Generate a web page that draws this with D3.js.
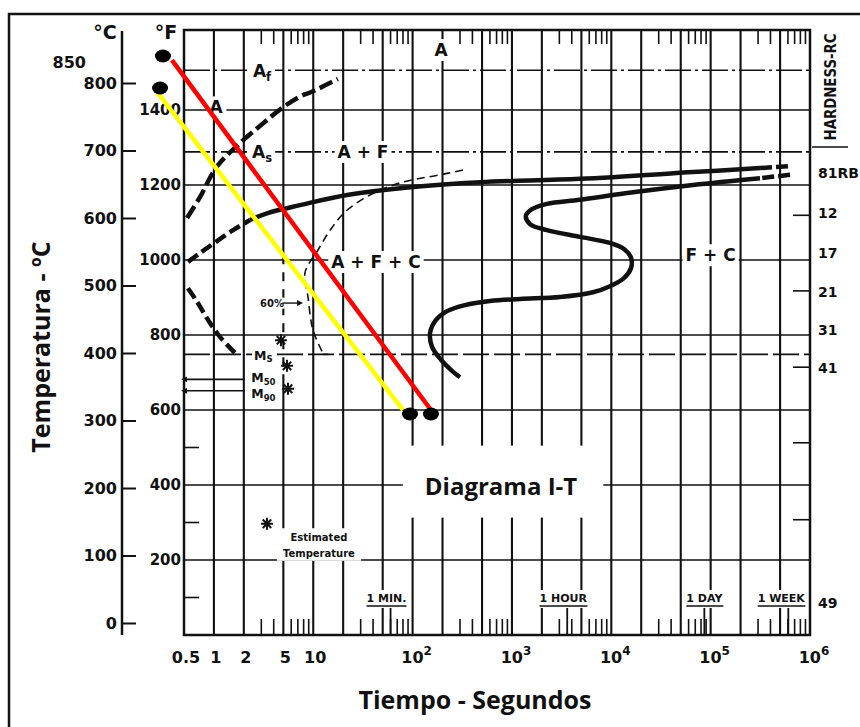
<!DOCTYPE html>
<html>
<head>
<meta charset="utf-8">
<title>Diagrama I-T</title>
<script src="https://cdn.jsdelivr.net/npm/d3@7/dist/d3.min.js"></script>
<style>
  html, body { margin: 0; padding: 0; background: #fff; }
  svg { display: block; }
  .scan { font-family: "DejaVu Sans", sans-serif; font-weight: bold; fill: #111; }
  .title { font-family: "Open Sans", sans-serif; font-weight: 700; fill: #111; }
</style>
</head>
<body>
<div id="chart"></div>
<script>
// --- Axis values ---
const celsiusTicks = [0, 100, 200, 300, 400, 500, 600, 700, 800];
const fahrenheitTicks = [200, 400, 600, 800, 1000, 1200, 1400];
const fahrenheitMinor = [100, 300, 500];
const timeTicks = [0.5, 1, 2, 5, 10, 100, 1e3, 1e4, 1e5, 1e6];
const timeTickLabels = ['0.5', '1', '2', '5', '10', '10^2', '10^3', '10^4', '10^5', '10^6'];
const timeGrid = [1, 2, 10, 20, 50, 100, 200, 500, 1e3, 2e3, 5e3, 1e4, 2e4, 5e4, 1e5, 2e5, 5e5];
const brokenGrid = 5;               // this line is dotted in the martensite zone
const minorMultipliers = [3, 4, 6, 7, 8, 9];
const minorDecades = [1, 10, 100, 1e3, 1e4, 1e5];
const timeMarks = [60, 3600, 86400, 604800];
const timeMarkLabels = ['1 MIN.', '1 HOUR', '1 DAY', '1 WEEK'];
const timeMarkShift = [-4, -4, 0, -7];
const hardnessLabels = ['81RB', '12', '17', '21', '31', '41', '49'];
const hardnessTemps = [667, 607, 548, 490, 434, 378, 30];
const hardnessTicks = [604, 492, 379, 267, 153];

// --- Critical temperatures (°C) ---
const tempAf = 819;
const tempAs = 698;
const tempMs = 398;
const tempM50 = 361;
const tempM90 = 344;

// --- Transformation curves: [time s, temp °C] ---
const austeniteLine = [[0.536, 600], [0.724, 631], [1.07, 676], [1.83, 711], [3.05, 739], [4.96, 764], [7.36, 780], [9.7, 787], [17.7, 806]];
const ferriteStartDashed = [[0.548, 535], [0.724, 548], [1.03, 564], [1.56, 582], [2.31, 597]];
const ferriteStart = [[2.31, 597], [3.42, 607], [7.36, 619], [21.9, 634], [101, 646], [476, 653], [4840, 658], [66400, 668], [314000, 674]];
const ferriteTail = [[314000, 674], [630000, 677]];
const pearliteTail = [[630000, 664], [314000, 659]];
const pearliteStart = [[314000, 659], [66400, 649], [14400, 637], [4840, 627], [2250, 621], [1590, 613], [1380, 603], [1520, 591],
  [2250, 582], [4840, 572], [9700, 563], [13700, 553], [15800, 541], [15800, 526], [13400, 511], [9700, 499], [6540, 490],
  [3050, 483], [1210, 480], [601, 477], [336, 471], [222, 462], [172, 449], [150, 430], [157, 409], [193, 390], [243, 375], [300, 364]];
const halfLine = [[321, 671], [189, 664], [74.7, 652], [37.2, 634], [20.9, 609], [14.8, 582], [11.2, 553], [8.26, 519], [8.85, 483], [9.94, 434], [12.5, 400]];
const halfLineFoot = [[12.5, 398], [14.2, 398]];
const martensiteLine = [[0.548, 496], [0.676, 476], [0.873, 449], [1.15, 424], [1.71, 397]];

// --- Marks and labels ---
const regionNames = ['A', 'A_f', 'A', 'A_s', 'A + F', 'A + F + C', 'F + C'];
const regionTimes = [193, 3.05, 1.05, 3.05, 31.7, 42.8, 1.0e5];
const regionTemps = [849, 818, 764, 698, 698, 535, 545];
const msNames = ['M_S', 'M_50', 'M_90'];
const msTemps = [397, 364, 340];
const msLabelTime = 3.15;
const starPoints = [[4.73, 419], [5.44, 381], [5.57, 347], [3.42, 147]];

// --- Cooling paths ---
const redPath = [[0.378, 834], [153, 315.6]];
const yellowPath = [[0.267, 786.7], [80, 315.6]];
const pathDots = [[0.307, 840], [0.287, 792.6], [94.2, 309.6], [153, 309.6]];

// ---------------------------------------------------------------
const W = 860, H = 727;
const x = d3.scaleLog().domain([0.5, 1e6]).range([184, 810]);
const yC = d3.scaleLinear().domain([0, 800]).range([623, 83]);
const yF = d3.scaleLinear().domain([0, 1600]).range([yC(-160 / 9), yC((1600 - 32) / 1.8)]);
const plotTop = 30, plotBottom = yF(0), plotLeft = x(0.5), plotRight = x(1e6);
const ink = '#111';

const svg = d3.select('#chart').append('svg').attr('width', W).attr('height', H);
svg.append('rect').attr('width', W).attr('height', H).attr('fill', '#fff');

const defs = svg.append('defs');
defs.append('marker')
  .attr('id', 'arr').attr('viewBox', '0 0 8 8').attr('refX', 1).attr('refY', 4)
  .attr('markerWidth', 6).attr('markerHeight', 6).attr('markerUnits', 'userSpaceOnUse')
  .attr('orient', 'auto-start-reverse')
  .append('path').attr('d', 'M0,0 L8,4 L0,8 z').attr('fill', ink);

// outer frame (cut at right and bottom)
svg.append('path').attr('d', `M9,${H} V14 H${W}`)
  .attr('fill', 'none').attr('stroke', ink).attr('stroke-width', 2.5);

// Celsius axis
const cAxis = svg.append('g').attr('transform', 'translate(122,0)')
  .call(d3.axisLeft(yC).tickValues(celsiusTicks).tickSizeInner(-14).tickSizeOuter(0).tickPadding(5))
  .attr('font-family', null).attr('font-size', null);
cAxis.select('.domain').remove();
cAxis.selectAll('line').attr('stroke', ink).attr('stroke-width', 2);
cAxis.selectAll('text').attr('class', 'scan').attr('font-size', 16).attr('fill', null);
svg.append('line').attr('x1', 122).attr('x2', 122).attr('y1', plotTop + 1).attr('y2', plotBottom)
  .attr('stroke', ink).attr('stroke-width', 2.5);

// Fahrenheit labels
const fAxis = svg.append('g').attr('transform', `translate(${plotLeft},0)`)
  .call(d3.axisLeft(yF).tickValues(fahrenheitTicks).tickSize(0).tickPadding(3).tickFormat(d3.format('d')))
  .attr('font-family', null).attr('font-size', null);
fAxis.select('.domain').remove();
fAxis.selectAll('text').attr('class', 'scan').attr('font-size', 15).attr('fill', null);

// grid
const grid = svg.append('g').attr('stroke', ink);
grid.selectAll('line.h').data(fahrenheitTicks).join('line').attr('class', 'h')
  .attr('x1', plotLeft).attr('x2', plotRight).attr('y1', d => yF(d)).attr('y2', d => yF(d))
  .attr('stroke-width', 1.6);
grid.selectAll('line.v').data(timeGrid).join('line').attr('class', 'v')
  .attr('x1', d => x(d)).attr('x2', d => x(d)).attr('y1', plotTop).attr('y2', plotBottom)
  .attr('stroke-width', 2.1);
// the 5 s line: solid, dotted through the martensite zone, solid again
[[plotTop, yC(545), null], [yC(545), yC(360), '9,8'], [yC(360), plotBottom, null]].forEach(([y1, y2, dash]) => {
  grid.append('line').attr('x1', x(brokenGrid)).attr('x2', x(brokenGrid)).attr('y1', y1).attr('y2', y2)
    .attr('stroke-width', 2.1).attr('stroke-dasharray', dash);
});
grid.selectAll('line.fm').data(fahrenheitMinor).join('line').attr('class', 'fm')
  .attr('x1', plotLeft).attr('x2', plotLeft + 15).attr('y1', d => yF(d)).attr('y2', d => yF(d))
  .attr('stroke-width', 1.6);

const minorTimes = minorDecades.flatMap(dec => minorMultipliers.map(m => m * dec));
grid.selectAll('line.mt').data(minorTimes).join('line').attr('class', 'mt')
  .attr('x1', d => x(d)).attr('x2', d => x(d)).attr('y1', plotTop).attr('y2', plotTop + 14)
  .attr('stroke-width', 1.6);
grid.selectAll('line.mb').data(minorTimes).join('line').attr('class', 'mb')
  .attr('x1', d => x(d)).attr('x2', d => x(d)).attr('y1', plotBottom - 16).attr('y2', plotBottom)
  .attr('stroke-width', 1.6);
grid.selectAll('line.tm').data(timeMarks).join('line').attr('class', 'tm')
  .attr('x1', d => x(d)).attr('x2', d => x(d)).attr('y1', plotBottom - 28).attr('y2', plotBottom)
  .attr('stroke-width', 1.8);
grid.selectAll('line.ht').data(hardnessTicks).join('line').attr('class', 'ht')
  .attr('x1', plotRight - 17).attr('x2', plotRight).attr('y1', d => yC(d)).attr('y2', d => yC(d))
  .attr('stroke-width', 1.6);

// critical temperature lines
const refs = svg.append('g').attr('stroke', ink).attr('fill', 'none');
[tempAf, tempAs].forEach(t => {
  refs.append('line').attr('x1', plotLeft).attr('x2', plotRight).attr('y1', yC(t)).attr('y2', yC(t))
    .attr('stroke-width', 1.6).attr('stroke-dasharray', '26,4,3,4');
});
refs.append('line').attr('x1', plotLeft).attr('x2', plotRight).attr('y1', yC(tempMs)).attr('y2', yC(tempMs))
  .attr('stroke-width', 1.6).attr('stroke-dasharray', '26,5');
[tempM50, tempM90].forEach(t => {
  refs.append('line').attr('x1', x(0.53)).attr('x2', x(2.05)).attr('y1', yC(t)).attr('y2', yC(t))
    .attr('stroke-width', 1.6).attr('marker-start', 'url(#arr)');
});

// labels with a white patch behind them (the scan breaks its lines there)
const labels = svg.append('g');
function addLabel(px, py, str, o = {}) {
  const size = o.size || 17;
  const t = labels.append('text')
    .attr('class', o.cls || 'scan')
    .attr('x', px).attr('y', py + size * 0.36)
    .attr('font-size', size)
    .attr('text-anchor', o.anchor || 'middle');
  const [main, sub] = str.split('_');
  t.append('tspan').text(main);
  if (sub) t.append('tspan').attr('font-size', size * 0.68).attr('dy', size * 0.22).text(sub);
  if (o.bg !== false) {
    const b = t.node().getBBox();
    const p = o.pad || [3, 1, 3, 1];
    labels.insert('rect', () => t.node())
      .attr('x', b.x - p[0]).attr('y', b.y - p[1])
      .attr('width', b.width + p[0] + p[2]).attr('height', b.height + p[1] + p[3])
      .attr('fill', '#fff');
  }
  return t;
}

regionNames.forEach((n, i) => addLabel(x(regionTimes[i]), yC(regionTemps[i]), n));
msNames.forEach((n, i) => addLabel(x(msLabelTime), yC(msTemps[i]), n,
  { size: 12.5, pad: [2, -2, 2, -3], bg: i === 0 }));

// 60% marker
addLabel(x(3.84), yC(474), '60%', { size: 10, pad: [1, 0, 1, 0] });
svg.append('line').attr('x1', x(4.9)).attr('x2', x(7.0)).attr('y1', yC(474)).attr('y2', yC(474))
  .attr('stroke', ink).attr('stroke-width', 1.4).attr('marker-end', 'url(#arr)');

// estimated temperature note
{
  const t = labels.append('text').attr('class', 'scan').attr('font-size', 10).attr('text-anchor', 'middle');
  t.append('tspan').attr('x', x(11.4)).attr('y', yC(127) + 4).text('Estimated');
  t.append('tspan').attr('x', x(11.4)).attr('y', yC(104) + 4).text('Temperature');
  const b = t.node().getBBox();
  labels.insert('rect', () => t.node()).attr('x', b.x - 6).attr('y', b.y - 4)
    .attr('width', b.width + 12).attr('height', b.height + 6).attr('fill', '#fff');
}

// time marks (underlined)
timeMarks.forEach((m, i) => {
  const t = addLabel(x(m) + timeMarkShift[i], plotBottom - 37, timeMarkLabels[i], { size: 11, pad: [2, 2, 2, 3] });
  const b = t.node().getBBox();
  labels.append('line').attr('x1', b.x).attr('x2', b.x + b.width).attr('y1', b.y + b.height + 1).attr('y2', b.y + b.height + 1)
    .attr('stroke', ink).attr('stroke-width', 1.6);
});

// chart name inside the grid
addLabel(x(776), yC(203), 'Diagrama I-T', { cls: 'title', size: 24, pad: [22, 23, 26, 16] });

// plot border
svg.append('rect').attr('x', plotLeft).attr('y', plotTop)
  .attr('width', plotRight - plotLeft).attr('height', plotBottom - plotTop)
  .attr('fill', 'none').attr('stroke', ink).attr('stroke-width', 2.5);

// curves
const line = d3.line().x(d => x(d[0])).y(d => yC(d[1])).curve(d3.curveCatmullRom.alpha(0.5));
const curves = svg.append('g').attr('fill', 'none').attr('stroke', ink).attr('stroke-linecap', 'butt');
curves.append('path').attr('d', line(austeniteLine)).attr('stroke-width', 4.5).attr('stroke-dasharray', '14,5');
curves.append('path').attr('d', line(ferriteStartDashed)).attr('stroke-width', 4.5).attr('stroke-dasharray', '12,5');
curves.append('path').attr('d', line(ferriteStart)).attr('stroke-width', 4.5);
curves.append('path').attr('d', line(ferriteTail)).attr('stroke-width', 4.5).attr('stroke-dasharray', '12,4');
curves.append('path').attr('d', line(pearliteTail)).attr('stroke-width', 4.5).attr('stroke-dasharray', '12,4');
curves.append('path').attr('d', line(pearliteStart)).attr('stroke-width', 4.5);
curves.append('path').attr('d', line(halfLine)).attr('stroke-width', 1.6).attr('stroke-dasharray', '8,5');
curves.append('path').attr('d', line(halfLineFoot)).attr('stroke-width', 1.6);
curves.append('path').attr('d', line(martensiteLine)).attr('stroke-width', 4.5).attr('stroke-dasharray', '12,5');

// asterisks
function starPath(r) {
  const p = d3.path();
  for (let a = 0; a < 4; a++) {
    const ang = a * Math.PI / 4;
    p.moveTo(-r * Math.cos(ang), -r * Math.sin(ang));
    p.lineTo(r * Math.cos(ang), r * Math.sin(ang));
  }
  return p.toString();
}
svg.append('g').selectAll('path').data(starPoints).join('path')
  .attr('transform', d => `translate(${x(d[0])},${yC(d[1])})`)
  .attr('d', starPath(6)).attr('stroke', ink).attr('stroke-width', 2);

// cooling paths
const straight = d3.line().x(d => x(d[0])).y(d => yC(d[1]));
svg.append('path').attr('d', straight(yellowPath)).attr('stroke', '#ffff00').attr('stroke-width', 4.5);
svg.append('path').attr('d', straight(redPath)).attr('stroke', '#ff0000').attr('stroke-width', 4.5);
svg.append('g').selectAll('ellipse').data(pathDots).join('ellipse')
  .attr('cx', d => x(d[0])).attr('cy', d => yC(d[1])).attr('rx', 8).attr('ry', 6.5).attr('fill', '#000');

// unit headers and start temperature
svg.append('text').attr('class', 'scan').attr('x', 105).attr('y', 39).attr('font-size', 19).attr('text-anchor', 'middle').text('°C');
svg.append('text').attr('class', 'scan').attr('x', 166).attr('y', 39).attr('font-size', 19).attr('text-anchor', 'middle').text('°F');
svg.append('text').attr('class', 'scan').attr('x', 86).attr('y', 68).attr('font-size', 16).attr('text-anchor', 'end').text('850');

// hardness scale
svg.append('text').attr('class', 'scan').attr('font-size', 16)
  .attr('transform', `translate(836,87) rotate(-90)`).attr('text-anchor', 'middle')
  .attr('textLength', 107).attr('lengthAdjust', 'spacingAndGlyphs').text('HARDNESS-RC');
svg.append('line').attr('x1', plotRight + 2).attr('x2', 848).attr('y1', 147).attr('y2', 147)
  .attr('stroke', ink).attr('stroke-width', 1.6);
svg.append('g').selectAll('text').data(hardnessLabels).join('text')
  .attr('class', 'scan').attr('font-size', 14)
  .attr('x', 818).attr('y', (d, i) => yC(hardnessTemps[i]) + 5)
  .text(d => d);

// time axis labels
svg.append('g').selectAll('text').data(timeTicks).join('text')
  .attr('class', 'scan').attr('font-size', 16).attr('text-anchor', 'middle')
  .attr('x', (d, i) => x(d) + (timeTickLabels[i].includes('^') ? 4 : 2))
  .attr('y', 663)
  .each(function (d, i) {
    const [base, sup] = timeTickLabels[i].split('^');
    const t = d3.select(this);
    t.append('tspan').text(base);
    if (sup) t.append('tspan').attr('font-size', 12).attr('dy', -8).text(sup);
  });

// titles
svg.append('text').attr('class', 'title').attr('font-size', 25).attr('text-anchor', 'middle')
  .attr('transform', 'translate(50,347) rotate(-90)').text('Temperatura - ºC');
svg.append('text').attr('class', 'title').attr('font-size', 25).attr('text-anchor', 'middle')
  .attr('x', 475).attr('y', 709).text('Tiempo - Segundos');
</script>
</body>
</html>
